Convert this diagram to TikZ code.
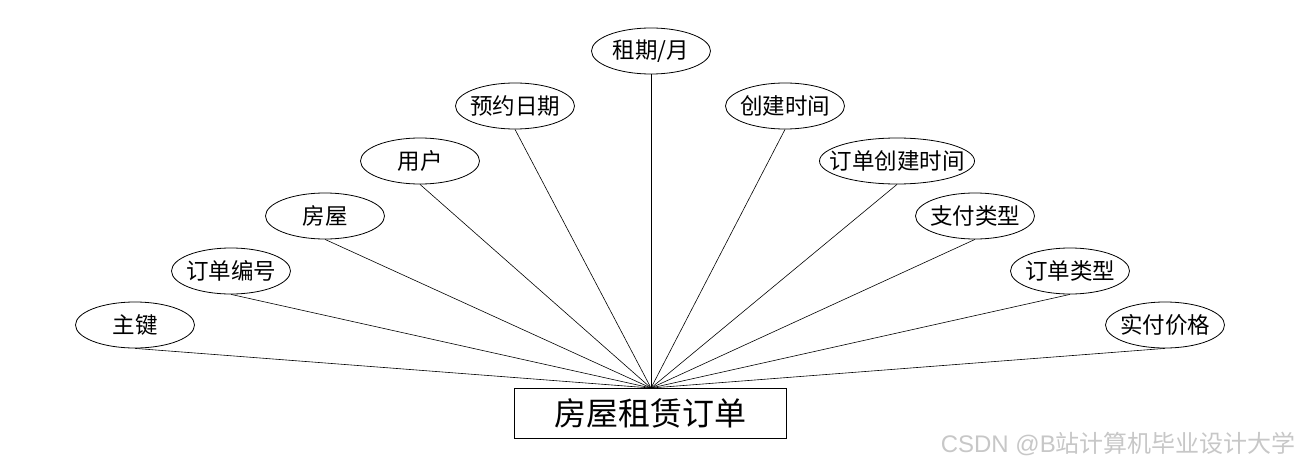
\documentclass[tikz,border=0pt]{standalone}
\usepackage{fontspec}
\setmainfont{Noto Sans CJK SC}
\newfontfamily\wmfont{Liberation Sans}
\usetikzlibrary{shapes.geometric}
\begin{document}
\begin{tikzpicture}[x=1pt,y=-1pt,
  attr/.style={draw,ellipse,minimum width=119pt,minimum height=46pt,inner xsep=-14pt,inner ysep=0pt,font=\fontsize{22.5}{22.5}\selectfont,line width=0.8pt},
  ent/.style={draw,rectangle,minimum width=272pt,minimum height=50pt,inner sep=0pt,font=\fontsize{32}{32}\selectfont,line width=0.8pt},
  link/.style={line width=0.6pt}]
\useasboundingbox (0,0) rectangle (1300,468);
\node[ent] (e) at (650,413) {房屋租赁订单};
\node[attr] (a1) at (135,325) {主键};
\node[attr] (a2) at (231,271) {订单编号};
\node[attr] (a3) at (325,216) {房屋};
\node[attr] (a4) at (420,161) {用户};
\node[attr] (a5) at (515,106) {预约日期};
\node[attr] (a6) at (651,51) {租期/月};
\node[attr] (a7) at (785,106) {创建时间};
\node[attr,minimum width=155pt] (a8) at (897,161) {订单创建时间};
\node[attr] (a9) at (975,216) {支付类型};
\node[attr] (a10) at (1070,271) {订单类型};
\node[attr] (a11) at (1165,325) {实付价格};
\coordinate (hub) at (651,388);
\foreach \i in {1,...,11} {\draw[link] (a\i.south) -- (hub);}
\node[anchor=east,text=black!22,font=\fontsize{24}{24}\selectfont,inner sep=0pt] (wm) at (1296,444) {{\wmfont CSDN @B}站计算机毕业设计大学};
\end{tikzpicture}
\end{document}
